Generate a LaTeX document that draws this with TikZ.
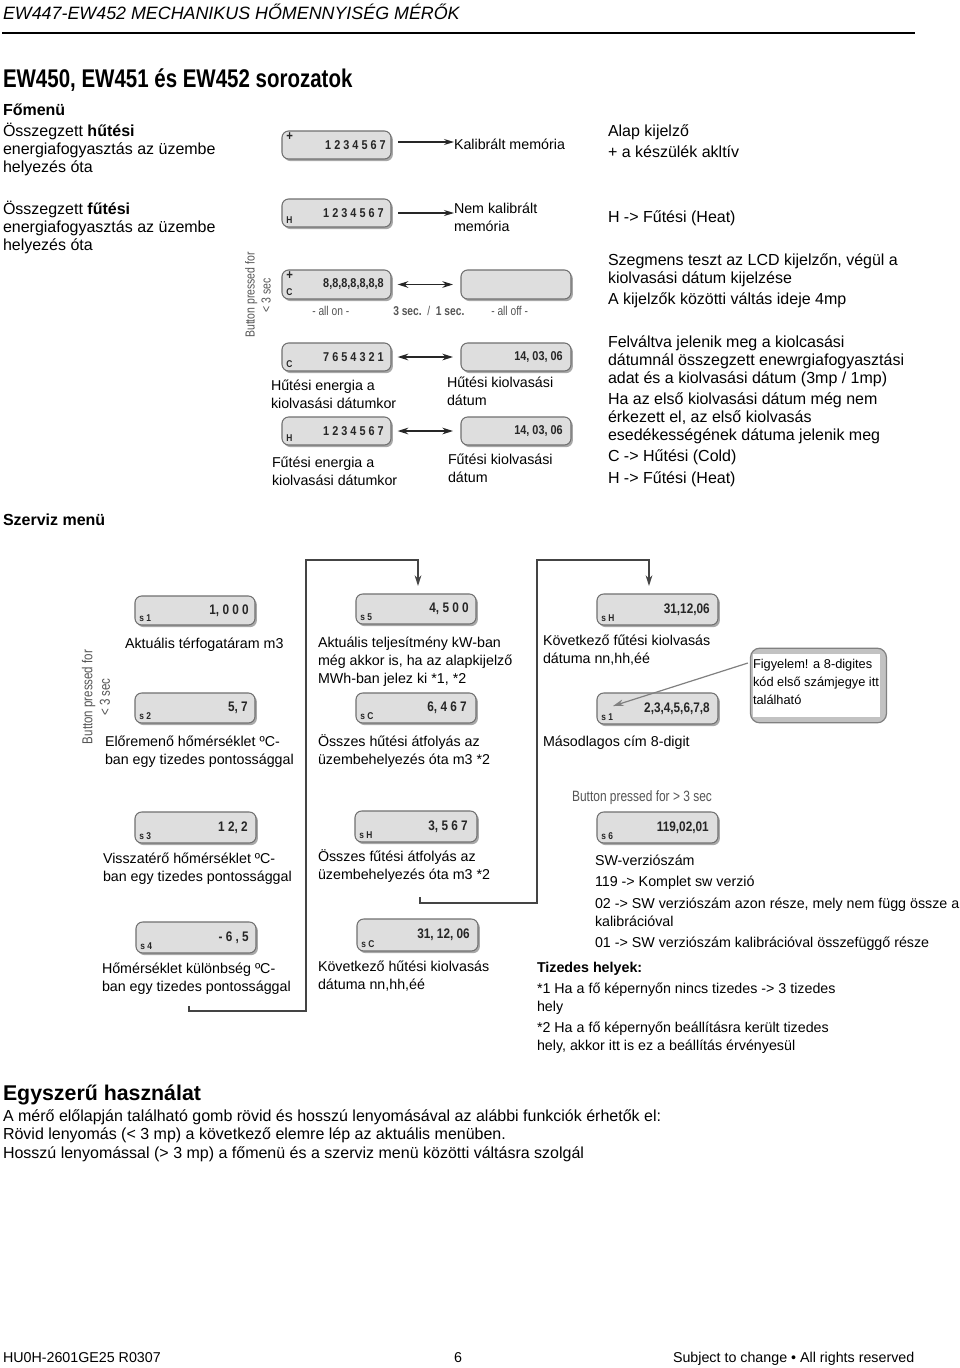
\documentclass[tikz,border=0pt]{standalone}
\usepackage{fontspec}
\setmainfont{Liberation Sans}
\newfontfamily\narrowfont[FakeStretch=0.80]{Liberation Sans}
\newfontfamily\lcdfont[FakeStretch=0.85]{Liberation Sans}
\newcommand\lcdbig{\fontsize{10.4}{11}\selectfont}
\usetikzlibrary{arrows.meta,shadows}
\definecolor{lcdfill}{HTML}{DEDEDE}
\definecolor{lcdedge}{HTML}{707070}
\definecolor{lcdshadow}{HTML}{A8A8A8}
\definecolor{linegray}{HTML}{444444}
\definecolor{btngray}{HTML}{555555}
\tikzset{
  x=0.75pt,y=-0.75pt,
  txt/.style={anchor=base west,inner sep=0pt,outer sep=0pt,align=left,text=black,font=\fontsize{10.7}{13.5}\selectfont},
  bigt/.style={txt,font=\fontsize{12}{13.5}\selectfont},
  small/.style={txt,font=\fontsize{9.6}{13.5}\selectfont},
  lcdbody/.style={draw=lcdedge,line width=0.8pt,fill=lcdfill,rounded corners=5pt,inner sep=0pt,outer sep=0pt,
    drop shadow={shadow xshift=1.4pt,shadow yshift=-1.6pt,fill=lcdshadow,opacity=1}},
  lcdval/.style={anchor=east,inner sep=0pt,text=black!85,font=\lcdfont\bfseries\fontsize{9.6}{11}\selectfont},
  lcdtag/.style={anchor=west,inner sep=0pt,text=black!85,font=\lcdfont\bfseries\fontsize{7.4}{9}\selectfont},
  btn/.style={inner sep=0pt,align=center,rotate=90,text=btngray,font=\narrowfont\fontsize{10.2}{12}\selectfont},
  btnh/.style={inner sep=0pt,text=btngray,font=\narrowfont\fontsize{11.2}{12}\selectfont},
  caption/.style={anchor=base west,inner sep=0pt,text=btngray,font=\narrowfont\fontsize{9.6}{11}\selectfont},
  arr/.style={line width=0.9pt,draw=black!85,-{Stealth[length=7.5pt,width=4.5pt]}},
  darr/.style={line width=0.9pt,draw=black!85,{Stealth[length=8pt,width=5pt]}-{Stealth[length=8pt,width=5pt]},shorten <=5pt,shorten >=6pt},
  loopln/.style={line width=1.1pt,draw=linegray},
  looparr/.style={loopln,-{Stealth[length=8pt,width=5pt]}},
  noteln/.style={line width=0.9pt,draw=gray,-{Stealth[length=8pt,width=5pt]}},
  notebox/.style={draw=gray,line width=0.9pt,fill=lcdshadow!70,rounded corners=7pt,inner sep=0pt},
  noteinner/.style={fill=white,inner sep=0pt},
}
% name, x1, y1, x2, y2, upper tag, lower tag, value, right inset
\newcommand\lcdbox[9]{%
  \pgfmathsetmacro\lcdw{(#4-#2)*0.75}\pgfmathsetmacro\lcdh{(#5-#3)*0.75}%
  \node[lcdbody,minimum width=\lcdw pt,minimum height=\lcdh pt] (#1) at ({(#2+#4)/2},{(#3+#5)/2}) {};
  \node[lcdval] (#1v) at ({#4-#9},{(#3+#5)/2}) {#8};
  \node[lcdtag,font=\lcdfont\bfseries\fontsize{10}{10}\selectfont] (#1u) at ({#2+4},{#3+6}) {#6};
  \node[lcdtag] (#1l) at ({#2+4},{#5-7}) {#7};
}
\begin{document}
\begin{tikzpicture}
\useasboundingbox (0,0) rectangle (960,1368);
\fill[white] (0,0) rectangle (960,1368);

% header
\node[txt,font=\itshape\fontsize{13.4}{15}\selectfont] (head) at (3,19) {EW447-EW452 MECHANIKUS HŐMENNYISÉG MÉRŐK};
\coordinate (ruleL) at (2,33); \coordinate (ruleR) at (915,33);
\draw[line width=1.2pt] (ruleL) -- (ruleR);
\node[txt,font=\narrowfont\bfseries\fontsize{19.2}{22}\selectfont] (title) at (3,87) {EW450, EW451 és EW452 sorozatok};

% Fomenu left
\node[bigt] (fomenu) at (3,115) {\textbf{Főmenü}};
\node[bigt] (l1) at (3,172) {Összegzett \textbf{hűtési}\\energiafogyasztás az üzembe\\helyezés óta};
\node[bigt] (l2) at (3,250) {Összegzett \textbf{fűtési}\\energiafogyasztás az üzembe\\helyezés óta};

% Fomenu displays
\lcdbox{d1}{282}{131}{391}{159}{+}{}{1 2 3 4 5 6 7}{5}
\lcdbox{d2}{282}{199}{391}{227}{}{H}{1 2 3 4 5 6 7}{7}
\lcdbox{d3}{282}{270}{391}{299}{+}{C}{8,8,8,8,8,8,8}{7}
\lcdbox{d3b}{461}{270}{571}{299}{}{}{}{8}
\lcdbox{d4}{282}{343}{391}{371}{}{C}{7 6 5 4 3 2 1}{7}
\lcdbox{d4b}{461}{343}{571}{371}{}{}{14, 03, 06}{8}
\lcdbox{d5}{282}{417}{391}{445}{}{H}{1 2 3 4 5 6 7}{7}
\lcdbox{d5b}{461}{417}{571}{445}{}{}{14, 03, 06}{8}

\node[btn,font=\narrowfont\fontsize{9.8}{12}\selectfont] (btn1) at (258,295) {Button pressed for\\< 3 sec};
\node[caption] (allon) at (312,315) {- all on -};
\node[caption] (secs) at (393,315) {\textbf{3 sec.}\ \ /\ \ \textbf{1 sec.}};
\node[caption] (alloff) at (491,315) {- all off -};

\node[txt] (kal) at (454,149) {Kalibrált memória};
\node[txt] (nkal) at (454,231) {Nem kalibrált\\memória};
\draw[arr] ([shift={(7,-3)}]d1.east) coordinate (k1s) -- (kal.west |- k1s);
\draw[arr] ([shift={(7,0)}]d2.east) coordinate (k2s) -- (nkal.west |- k2s);
\draw[darr] (d3.east) -- (d3b.west);
\draw[darr] (d4.east) -- (d4b.west);
\draw[darr] (d5.east) -- (d5b.west);

\node[txt] (c4) at (271,408) {Hűtési energia a\\kiolvasási dátumkor};
\node[txt] (c4b) at (447,405) {Hűtési kiolvasási\\dátum};
\node[txt] (c5) at (272,485) {Fűtési energia a\\kiolvasási dátumkor};
\node[txt] (c5b) at (448,482) {Fűtési kiolvasási\\dátum};

% right column
\node[bigt] (r1) at (608,136) {Alap kijelző};
\node[bigt] (r2) at (608,157) {+ a készülék akltív};
\node[bigt] (r3) at (608,222) {H -> Fűtési (Heat)};
\node[bigt] (r4) at (608,283) {Szegmens teszt az LCD kijelzőn, végül a\\kiolvasási dátum kijelzése};
\node[bigt] (r5) at (608,304) {A kijelzők közötti váltás ideje 4mp};
\node[bigt] (r6) at (608,383) {Felváltva jelenik meg a kiolcasási\\dátumnál összegzett enewrgiafogyasztási\\adat és a kiolvasási dátum (3mp / 1mp)};
\node[bigt] (r7) at (608,440) {Ha az első kiolvasási dátum még nem\\érkezett el, az első kiolvasás\\esedékességének dátuma jelenik meg};
\node[bigt] (r8) at (608,461) {C -> Hűtési (Cold)};
\node[bigt] (r9) at (608,483) {H -> Fűtési (Heat)};

% Szerviz
\node[bigt] (szerviz) at (3,525) {\textbf{Szerviz menü}};

\lcdbox{s1}{135}{596}{255}{625}{}{s 1}{\lcdbig 1, 0 0 0}{6}
\lcdbox{s2}{135}{693}{255}{723}{}{s 2}{\lcdbig 5, 7}{7}
\lcdbox{s5}{356}{594}{476}{624}{}{s 5}{\lcdbig 4, 5 0 0}{7}
\lcdbox{sc}{356}{693}{476}{723}{}{s C}{\lcdbig 6, 4 6 7}{9}
\lcdbox{sh}{597}{594}{718}{625}{}{s H}{\lcdbig 31,12,06}{8}
\lcdbox{sa}{597}{693}{718}{724}{}{s 1}{\lcdbig 2,3,4,5,6,7,8}{8}
\lcdbox{s6}{597}{812}{718}{843}{}{s 6}{\lcdbig 119,02,01}{9}
\lcdbox{s3}{135}{812}{256}{843}{}{s 3}{\lcdbig 1 2, 2}{8}
\lcdbox{s4}{136}{922}{256}{953}{}{s 4}{\lcdbig - 6 , 5}{7}
\lcdbox{sh2}{355}{811}{477}{842}{}{s H}{\lcdbig 3, 5 6 7}{9}
\lcdbox{sc2}{357}{919}{478}{951}{}{s C}{\lcdbig 31, 12, 06}{8}

\node[btn,font=\narrowfont\fontsize{10.8}{13}\selectfont] (btn2) at (96,697) {Button pressed for\\< 3 sec};
\node[btnh] (btn3) at (642,798) {Button pressed for > 3 sec};

\node[txt] (t1) at (125,648) {Aktuális térfogatáram m3};
\node[txt] (t2) at (105,764) {Előremenő hőmérséklet ºC-\\ban egy tizedes pontossággal};
\node[txt] (t3) at (103,881) {Visszatérő hőmérséklet ºC-\\ban egy tizedes pontossággal};
\node[txt] (t4) at (102,991) {Hőmérséklet különbség ºC-\\ban egy tizedes pontossággal};
\node[txt] (t5) at (318,683) {Aktuális teljesítmény kW-ban\\még akkor is, ha az alapkijelző\\MWh-ban jelez ki *1, *2};
\node[txt] (t6) at (318,764) {Összes hűtési átfolyás az\\üzembehelyezés óta m3 *2};
\node[txt] (t7) at (318,879) {Összes fűtési átfolyás az\\üzembehelyezés óta m3 *2};
\node[txt] (t8) at (318,989) {Következő hűtési kiolvasás\\dátuma nn,hh,éé};
\node[txt] (t9) at (543,663) {Következő fűtési kiolvasás\\dátuma nn,hh,éé};
\node[txt] (t10) at (543,746) {Másodlagos cím 8-digit};

% note box
\node[notebox,minimum width=102pt,minimum height=56pt] (note) at (818.5,685.5) {};
\node[noteinner,minimum width=95.5pt,minimum height=47.5pt] (noteb) at (816.5,685.5) {};
\node[small] (notet) at (753,704) {Figyelem! a 8-digites\\kód első számjegye itt\\található};
\draw[noteln] ([shift={(-2,-22.5)}]note.west) -- ([shift={(16,-2.5)}]sa.west);

% software version
\node[txt] (v1) at (595,865) {SW-verziószám};
\node[txt] (v2) at (595,886) {119 -> Komplet sw verzió};
\node[txt] (v3) at (595,926) {02 -> SW verziószám azon része, mely nem függ össze a\\kalibrációval};
\node[txt] (v4) at (595,947) {01 -> SW verziószám kalibrációval összefüggő része};
\node[txt] (v5) at (537,972) {\textbf{Tizedes helyek:}};
\node[txt] (v6) at (537,1011) {*1 Ha a fő képernyőn nincs tizedes -> 3 tizedes\\hely};
\node[txt] (v7) at (537,1050) {*2 Ha a fő képernyőn beállításra került tizedes\\hely, akkor itt is ez a beállítás érvényesül};

% loops
\coordinate (la) at (189,1006); \coordinate (lb) at (189,1011); \coordinate (lc) at (306,1011);
\coordinate (ld) at (306,560); \coordinate (le) at (418,560);
\draw[looparr] (la) -- (lb) -- (lc) -- (ld) -- (le) -- ([yshift=6pt]s5.north -| le);
\coordinate (ma) at (420,897); \coordinate (mb) at (420,903); \coordinate (mc) at (537,903);
\coordinate (md) at (537,560); \coordinate (me) at (649,560);
\draw[looparr] (ma) -- (mb) -- (mc) -- (md) -- (me) -- ([yshift=6pt]sh.north -| me);

% usage
\node[bigt,font=\bfseries\fontsize{16}{18}\selectfont] (u0) at (3,1100) {Egyszerű használat};
\node[bigt] (u1) at (3,1121) {A mérő előlapján található gomb rövid és hosszú lenyomásával az alábbi funkciók érhetők el:};
\node[bigt] (u2) at (3,1139) {Rövid lenyomás (< 3 mp) a következő elemre lép az aktuális menüben.};
\node[bigt] (u3) at (3,1158) {Hosszú lenyomással (> 3 mp) a főmenü és a szerviz menü közötti váltásra szolgál};

% footer
\node[txt] (f1) at (3,1362) {HU0H-2601GE25 R0307};
\node[txt] (f2) at (454,1362) {6};
\node[txt] (f3) at (673,1362) {Subject to change • All rights reserved};
\end{tikzpicture}
\end{document}
